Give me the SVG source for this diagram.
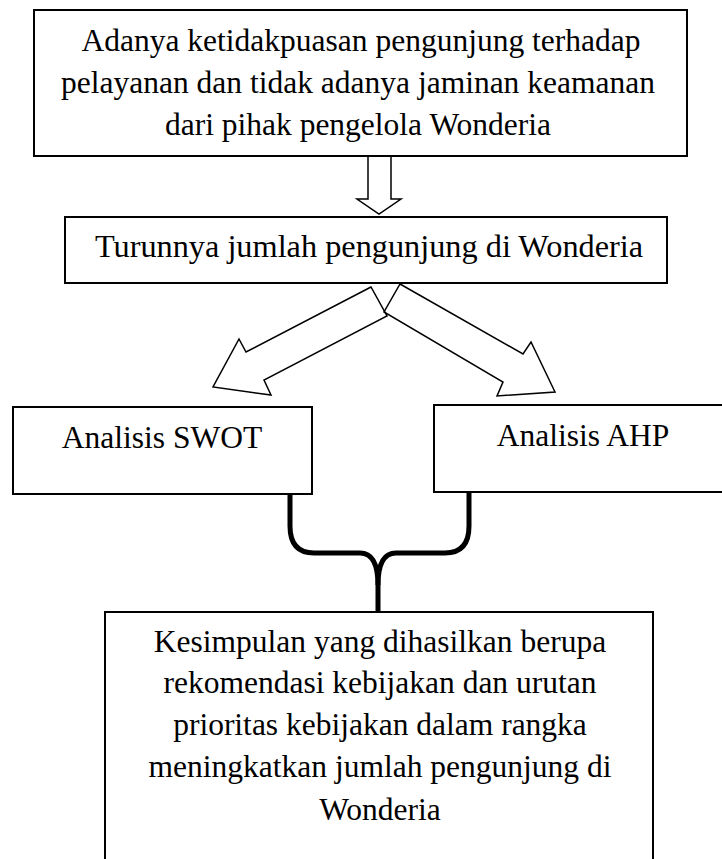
<svg xmlns="http://www.w3.org/2000/svg" width="722" height="859" viewBox="0 0 722 859">
<style>
.box{fill:#fff;stroke:#000;stroke-width:2}
.t{font-family:'Liberation Serif','Times New Roman',serif;font-size:31.5px;fill:#000;text-anchor:middle}
.arr{fill:none;stroke:#000;stroke-width:1.5;stroke-linejoin:miter}
.brace{fill:none;stroke:#000;stroke-width:5;stroke-linecap:butt}
</style>
<rect width="722" height="859" fill="#fff"/>
<g id="connectors">
<polygon class="arr" points="368,156 391,156 391,199 401,199 379,214 357,199 368,199"/>
<polygon class="arr" points="371,287 246,352 239,339 213,387 271,395 264,380 387,316"/>
<polygon class="arr" points="400,284 523,354 531,342 555,392 497,396 503,382 384,312"/>
<path class="brace" d="M290,494 L290,526 Q290,553 314,553 L360,553 Q378,553 378,585 L378,612"/>
<path class="brace" d="M469,492 L469,526 Q469,553 445,553 L396,553 Q378,553 378,585"/>
</g>
<g id="node-problem">
<rect class="box" x="34" y="10" width="653" height="146"/>
<text class="t" x="361" y="51">Adanya ketidakpuasan pengunjung terhadap</text>
<text class="t" x="358" y="93">pelayanan dan tidak adanya jaminan keamanan</text>
<text class="t" x="358" y="135">dari pihak pengelola Wonderia</text>
</g>
<g id="node-decline">
<rect class="box" x="65" y="217" width="602" height="66"/>
<text class="t" x="369" y="257" style="font-size:32.3px">Turunnya jumlah pengunjung di Wonderia</text>
</g>
<g id="node-swot">
<rect class="box" x="13" y="407" width="299" height="87"/>
<text class="t" x="162" y="448">Analisis SWOT</text>
</g>
<g id="node-ahp">
<rect class="box" x="434" y="405" width="290" height="87"/>
<text class="t" x="583" y="446">Analisis AHP</text>
</g>
<g id="node-conclusion">
<rect class="box" x="105" y="612" width="548" height="260"/>
<text class="t" x="380" y="652">Kesimpulan yang dihasilkan berupa</text>
<text class="t" x="380" y="693">rekomendasi kebijakan dan urutan</text>
<text class="t" x="380" y="735">prioritas kebijakan dalam rangka</text>
<text class="t" x="380" y="777">meningkatkan jumlah pengunjung di</text>
<text class="t" x="380" y="820">Wonderia</text>
</g>
</svg>
